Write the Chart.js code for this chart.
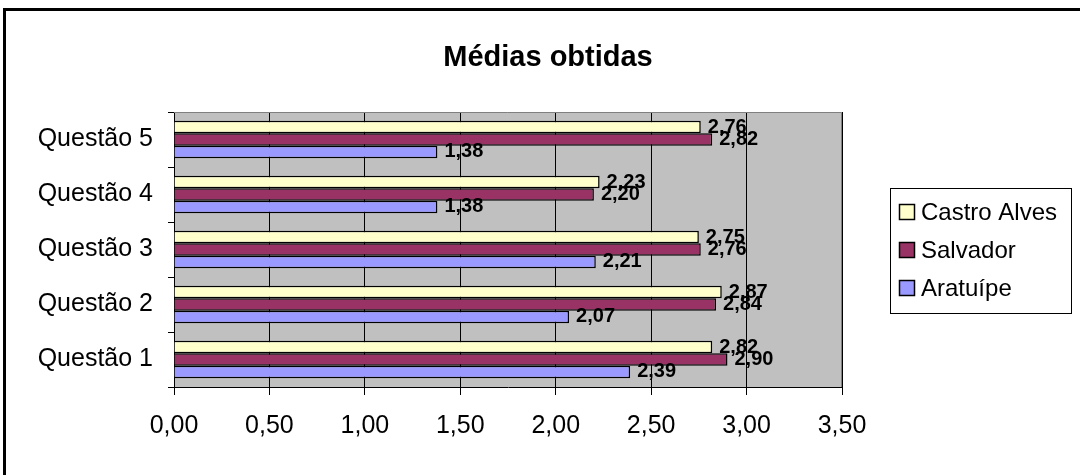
<!DOCTYPE html>
<html lang="pt-BR">
<head>
  <meta charset="UTF-8">
  <title>Médias obtidas</title>
  <script src="https://cdn.jsdelivr.net/npm/chart.js"></script>
  <style>
    body { margin: 0; background: #fff; }
    #wrap { width: 1080px; height: 475px; position: relative; }
  </style>
</head>
<body>
  <div id="wrap">
    <canvas id="mediasChart" width="1080" height="475"></canvas>
  </div>

  <script>
    const questoes = ["Questão 1", "Questão 2", "Questão 3", "Questão 4", "Questão 5"];
    const castroAlves = [2.82, 2.87, 2.75, 2.23, 2.76];
    const salvador = [2.90, 2.84, 2.76, 2.20, 2.82];
    const aratuipe = [2.39, 2.07, 2.21, 1.38, 1.38];
    const seriesNames = ["Castro Alves", "Salvador", "Aratuípe"];
    const seriesColors = ["#FFFFCC", "#993366", "#9999FF"];
    const titulo = "Médias obtidas";

    const FONT = "'Liberation Sans', Arial, sans-serif";
    const fmt = v => v.toFixed(2).replace(".", ",");

    // moldura, fundo cinza da área de plotagem, título e legenda
    const excelLook = {
      id: "excelLook",
      beforeDraw(chart) {
        const { ctx, chartArea: a } = chart;
        ctx.save();
        ctx.fillStyle = "#C0C0C0";
        ctx.fillRect(a.left, a.top, a.right - a.left, a.bottom - a.top);
        ctx.fillStyle = "#000";
        ctx.fillRect(3, 8, 1077, 3);
        ctx.fillRect(3, 8, 3, 467);
        ctx.restore();
      },
      afterDraw(chart) {
        const { ctx, chartArea: a } = chart;
        ctx.save();
        ctx.strokeStyle = "#808080";
        ctx.lineWidth = 1;
        ctx.beginPath();
        ctx.moveTo(a.left, a.top + 0.5);
        ctx.lineTo(a.right - 0.5, a.top + 0.5);
        ctx.lineTo(a.right - 0.5, a.bottom);
        ctx.stroke();

        // título
        ctx.fillStyle = "#000";
        ctx.font = "bold 29px " + FONT;
        ctx.textAlign = "center";
        ctx.textBaseline = "middle";
        ctx.fillText(titulo, 548, 58);

        // rótulos de dados
        ctx.font = "bold 20px " + FONT;
        ctx.textAlign = "left";
        chart.data.datasets.forEach((ds, di) => {
          const meta = chart.getDatasetMeta(di);
          meta.data.forEach((bar, i) => {
            ctx.fillText(fmt(ds.data[i]), bar.x + 7, bar.y);
          });
        });

        // legenda
        ctx.strokeStyle = "#000";
        ctx.strokeRect(890.5, 188.5, 181, 125);
        ctx.font = "24px " + FONT;
        chart.data.datasets.forEach((ds, di) => {
          const cy = 212 + di * 38;
          ctx.fillStyle = ds.backgroundColor;
          ctx.fillRect(899, cy - 8, 16, 16);
          ctx.lineWidth = 1.5;
          ctx.strokeRect(899.5, cy - 7.5, 15, 15);
          ctx.fillStyle = "#000";
          ctx.fillText(ds.label, 921, cy + 1);
        });
        ctx.restore();
      }
    };

    new Chart(document.getElementById("mediasChart"), {
      type: "bar",
      data: {
        labels: questoes,
        datasets: [
          { label: seriesNames[0], data: castroAlves, backgroundColor: seriesColors[0] },
          { label: seriesNames[1], data: salvador, backgroundColor: seriesColors[1] },
          { label: seriesNames[2], data: aratuipe, backgroundColor: seriesColors[2] }
        ]
      },
      options: {
        indexAxis: "y",
        responsive: false,
        animation: false,
        layout: { padding: { top: 112, right: 238, bottom: 0, left: 0 } },
        datasets: {
          bar: {
            borderColor: "#000",
            borderWidth: 1.5,
            categoryPercentage: 0.68,
            barPercentage: 1
          }
        },
        plugins: {
          legend: { display: false },
          title: { display: false },
          tooltip: { enabled: false }
        },
        scales: {
          x: {
            min: 0,
            max: 3.5,
            ticks: {
              stepSize: 0.5,
              color: "#000",
              font: { family: FONT, size: 25 },
              padding: 16,
              callback: v => fmt(v)
            },
            grid: { color: "#000", lineWidth: 1, tickLength: 8 },
            border: { color: "#000", width: 1 },
            afterFit: s => { s.height = 88; }
          },
          y: {
            reverse: true,
            ticks: {
              color: "#000",
              font: { family: FONT, size: 25 },
              padding: 15
            },
            grid: { drawOnChartArea: false, color: "#000", tickLength: 6 },
            border: { color: "#000", width: 1 },
            afterFit: s => { s.width = 174; }
          }
        }
      },
      plugins: [excelLook]
    });
  </script>
</body>
</html>
